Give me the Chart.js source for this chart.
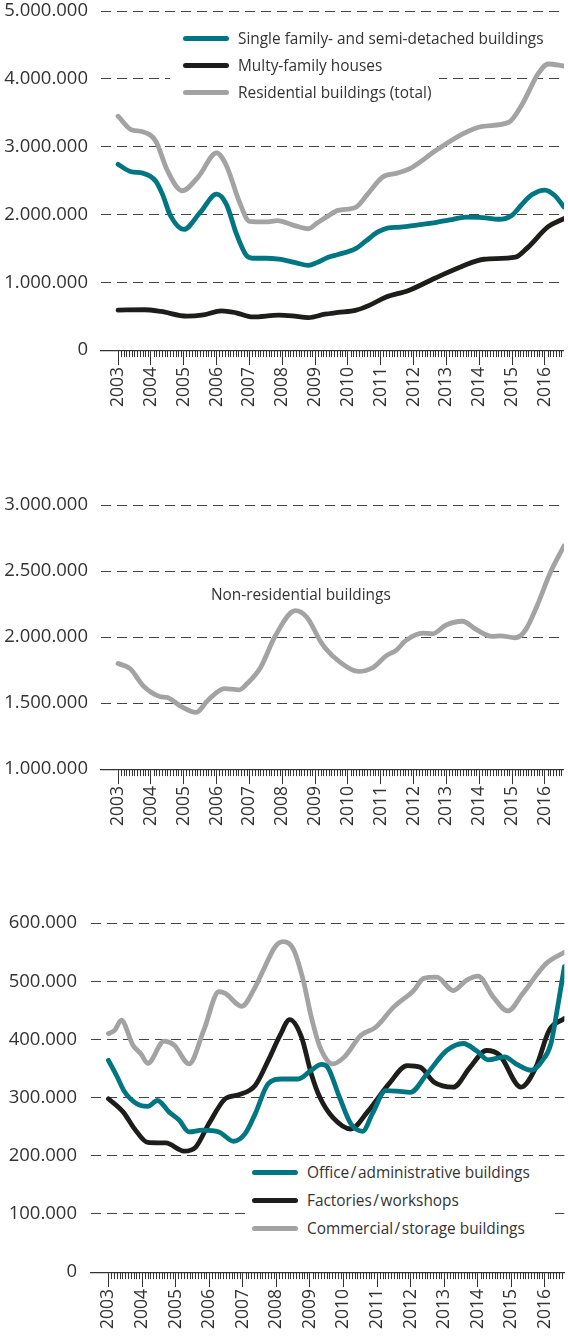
<!DOCTYPE html>
<html>
<head>
<meta charset="utf-8">
<script src="https://cdn.jsdelivr.net/npm/chart.js@4.4.1/dist/chart.umd.min.js"></script>
<style>
  body { margin: 0; width: 568px; height: 1337px; overflow: hidden; background: #fff; font-family: "Open Sans", sans-serif; color: #333; }
  canvas { position: absolute; left: 0; }
  .legend { position: absolute; background: #fff; }
  .row { position: absolute; left: 0; height: 20px; display: flex; align-items: center; white-space: nowrap; font-size: 15.4px; }
  .swatch { display: inline-block; width: 46px; height: 5px; border-radius: 3px; margin-right: 9px; }
  .note { position: absolute; font-size: 15.4px; white-space: nowrap; }
</style>
</head>
<body>
<canvas id="c1" width="568" height="420" style="top:0px"></canvas>
<canvas id="c2" width="568" height="340" style="top:495px"></canvas>
<canvas id="c3" width="568" height="420" style="top:913px"></canvas>

<div class="legend" style="left:170px; top:26px; width:269px; height:80px;">
  <div class="row" style="left:13px; top:2px"><span class="swatch" style="background:#007682"></span>Single family- and semi-detached buildings</div>
  <div class="row" style="left:13px; top:29px"><span class="swatch" style="background:#1d1d1b"></span>Multy-family houses</div>
  <div class="row" style="left:13px; top:56px"><span class="swatch" style="background:#a3a3a3"></span>Residential buildings (total)</div>
</div>
<div class="note" style="left:211px; top:584px">Non-residential buildings</div>
<div class="legend" style="left:246px; top:1160px; width:303px; height:82px;">
  <div class="row" style="left:6px; top:2px"><span class="swatch" style="background:#007682"></span>Office&#8202;/&#8202;administrative buildings</div>
  <div class="row" style="left:6px; top:30px"><span class="swatch" style="background:#1d1d1b"></span>Factories&#8202;/&#8202;workshops</div>
  <div class="row" style="left:6px; top:58px"><span class="swatch" style="background:#a3a3a3"></span>Commercial&#8202;/&#8202;storage buildings</div>
</div>

<script>
const TEAL = "#007682";
const BLACK = "#1d1d1b";
const GREY = "#a3a3a3";

const years = [2003, 2004, 2005, 2006, 2007, 2008, 2009, 2010, 2011, 2012, 2013, 2014, 2015, 2016];

// chart 1, values in thousands
const singleX = [2003.0, 2003.4, 2003.75, 2004.15, 2004.35, 2004.6, 2005.0, 2005.5, 2006.0, 2006.3, 2006.6, 2006.9, 2007.1, 2007.5, 2007.9, 2008.4, 2008.8, 2009.05, 2009.4, 2009.7, 2010.25, 2010.55, 2010.9, 2011.2, 2011.6, 2012.1, 2012.7, 2013.1, 2013.6, 2014.1, 2014.6, 2015.0, 2015.3, 2015.6, 2016.0, 2016.3, 2016.58];
const singleY = [2740, 2630, 2610, 2490, 2300, 1980, 1780, 2030, 2300, 2150, 1720, 1400, 1355, 1355, 1340, 1290, 1250, 1290, 1370, 1410, 1500, 1610, 1740, 1800, 1815, 1845, 1885, 1920, 1960, 1955, 1930, 1990, 2150, 2290, 2360, 2280, 2110];

const multiX = [2003.0, 2003.8, 2004.3, 2005.1, 2005.6, 2006.15, 2006.6, 2007.1, 2007.9, 2008.3, 2008.8, 2009.3, 2009.7, 2010.25, 2010.65, 2011.15, 2011.85, 2012.65, 2013.45, 2014.15, 2015.1, 2015.45, 2016.1, 2016.58];
const multiY = [590, 595, 570, 500, 520, 580, 550, 490, 515, 505, 480, 530, 555, 590, 660, 780, 880, 1060, 1230, 1340, 1370, 1500, 1820, 1940];

const resX = [2003.0, 2003.4, 2003.75, 2004.15, 2004.5, 2004.95, 2005.45, 2006.0, 2006.3, 2006.7, 2007.0, 2007.5, 2007.85, 2008.35, 2008.8, 2009.05, 2009.4, 2009.7, 2010.25, 2010.6, 2011.05, 2011.5, 2011.9, 2012.7, 2013.5, 2014.1, 2014.9, 2015.3, 2015.8, 2016.1, 2016.58];
const resY = [3450, 3250, 3220, 3080, 2650, 2350, 2560, 2910, 2720, 2180, 1900, 1890, 1910, 1840, 1790, 1870, 1980, 2060, 2110, 2300, 2550, 2610, 2680, 2950, 3190, 3300, 3360, 3620, 4080, 4220, 4190];

// chart 2
const nonResX = [2003.0, 2003.37, 2003.77, 2004.27, 2004.52, 2004.92, 2005.38, 2005.73, 2006.24, 2006.69, 2006.94, 2007.34, 2007.79, 2008.4, 2008.75, 2009.15, 2009.3, 2009.76, 2010.31, 2010.77, 2011.17, 2011.47, 2011.77, 2012.28, 2012.58, 2012.98, 2013.49, 2013.89, 2014.39, 2014.64, 2015.1, 2015.4, 2015.75, 2016.15, 2016.58];
const nonResY = [1800, 1760, 1630, 1550, 1540, 1475, 1430, 1520, 1610, 1600, 1650, 1770, 2010, 2200, 2150, 1975, 1920, 1810, 1740, 1770, 1860, 1900, 1975, 2030, 2025, 2090, 2120, 2060, 2005, 2010, 1995, 2050, 2230, 2480, 2690];

// chart 3
const officeX = [2003.0, 2003.24, 2003.48, 2003.83, 2004.17, 2004.46, 2004.81, 2005.11, 2005.4, 2005.79, 2006.29, 2006.73, 2007.07, 2007.37, 2007.76, 2008.16, 2008.65, 2009.04, 2009.35, 2009.53, 2009.88, 2010.22, 2010.57, 2010.86, 2011.26, 2011.6, 2011.99, 2012.49, 2013.08, 2013.57, 2013.97, 2014.31, 2014.8, 2015.14, 2015.59, 2015.93, 2016.18, 2016.38, 2016.58];
const officeY = [364, 338, 310, 290, 285, 295, 275, 261, 241, 244, 241, 225, 238, 272, 324, 332, 332, 347, 357, 352, 301, 255, 242, 272, 312, 311, 309, 341, 381, 393, 380, 365, 370, 358, 347, 364, 393, 456, 525];

const factX = [2003.0, 2003.44, 2003.78, 2004.17, 2004.71, 2005.25, 2005.6, 2005.99, 2006.48, 2006.88, 2007.37, 2007.76, 2008.11, 2008.4, 2008.75, 2009.04, 2009.3, 2009.68, 2010.22, 2010.71, 2011.36, 2011.9, 2012.29, 2012.69, 2013.27, 2013.77, 2014.26, 2014.65, 2015.29, 2015.73, 2016.13, 2016.58];
const factY = [298, 275, 246, 223, 222, 208, 215, 255, 298, 305, 321, 364, 407, 434, 404, 341, 300, 266, 246, 275, 324, 355, 352, 327, 318, 352, 381, 373, 318, 352, 416, 436];

const commX = [2003.0, 2003.19, 2003.38, 2003.73, 2003.97, 2004.17, 2004.66, 2004.96, 2005.4, 2005.84, 2006.29, 2006.48, 2006.97, 2007.37, 2007.66, 2007.96, 2008.2, 2008.5, 2008.8, 2009.04, 2009.3, 2009.68, 2010.03, 2010.52, 2010.96, 2011.5, 2012.09, 2012.39, 2012.78, 2013.27, 2013.67, 2014.01, 2014.46, 2014.9, 2015.34, 2016.03, 2016.58];
const commY = [410, 416, 433, 390, 375, 359, 397, 390, 358, 416, 482, 479, 457, 490, 525, 559, 568, 556, 502, 439, 387, 358, 370, 407, 421, 456, 484, 505, 507, 484, 502, 509, 473, 449, 479, 530, 550];

Chart.defaults.font.family = "'Open Sans', sans-serif";
Chart.defaults.font.size = 18;
Chart.defaults.color = "#333";

const pts = (xs, ys) => xs.map((x, i) => ({ x, y: ys[i] }));

const fmt = v => Math.round(v * 1000).toString().replace(/\B(?=(\d{3})+(?!\d))/g, ".");

// monthly minor ticks under the x axis
const monthTicks = {
  id: "monthTicks",
  afterDraw(chart) {
    const sx = chart.scales.x;
    const ctx = chart.ctx;
    const y0 = chart.chartArea.bottom;
    ctx.save();
    ctx.strokeStyle = "#333";
    ctx.lineWidth = 1;
    ctx.beginPath();
    for (let m = 1; 2003 + m / 12 <= sx.max; m++) {
      if (m % 12 === 0) continue;
      const px = Math.round(sx.getPixelForValue(2003 + m / 12)) + 0.5;
      ctx.moveTo(px, y0);
      ctx.lineTo(px, y0 + 7);
    }
    ctx.stroke();
    ctx.restore();
  }
};

function line(data, color) {
  return {
    data,
    borderColor: color,
    borderWidth: 4.8,
    pointRadius: 0,
    borderCapStyle: "round",
    borderJoinStyle: "round",
    cubicInterpolationMode: "monotone",
    fill: false
  };
}

function makeChart(id, datasets, yMin, yMax, yStep, axisWidth, labelPad) {
  return new Chart(document.getElementById(id), {
    type: "line",
    data: { datasets },
    options: {
      responsive: false,
      maintainAspectRatio: false,
      animation: false,
      devicePixelRatio: 1,
      layout: { padding: 0 },
      plugins: { legend: { display: false }, tooltip: { enabled: false } },
      scales: {
        x: {
          type: "linear",
          min: 2002.48,
          max: 2016.58,
          afterBuildTicks: s => { s.ticks = years.map(v => ({ value: v })); },
          afterFit: s => { s.height = 60; },
          grid: { drawOnChartArea: false, drawTicks: true, tickLength: 15, tickColor: "#333", tickWidth: 1 },
          border: { display: true, color: "#333", width: 1.2 },
          ticks: { minRotation: 90, maxRotation: 90, padding: 2, font: { size: 17.5 }, callback: v => String(v) }
        },
        y: {
          min: yMin,
          max: yMax,
          afterBuildTicks: s => {
            const t = [];
            for (let v = yMin; v <= yMax; v += yStep) t.push({ value: v });
            s.ticks = t;
          },
          afterFit: s => { s.width = axisWidth; },
          grid: { color: "#444", lineWidth: 1, drawTicks: false },
          border: { display: false, dash: [10, 6] },
          ticks: { padding: labelPad, font: { size: 18.5 }, callback: v => fmt(v) }
        }
      }
    },
    plugins: [monthTicks]
  });
}

// put the plot area of a chart at the wanted page rows
function place(chart, top, bottom) {
  const a = chart.chartArea;
  const h = chart.height + (bottom - top) - (a.bottom - a.top);
  chart.resize(568, h);
  chart.canvas.style.top = (top - chart.chartArea.top) + "px";
}

const c1 = makeChart("c1", [
  line(pts(singleX, singleY), TEAL),
  line(pts(multiX, multiY), BLACK),
  line(pts(resX, resY), GREY)
], 0, 5000, 1000, 101, 13);
place(c1, 11, 350);

const c2 = makeChart("c2", [
  line(pts(nonResX, nonResY), GREY)
], 1000, 3000, 500, 101, 13);
place(c2, 505, 769);

const c3 = makeChart("c3", [
  line(pts(officeX, officeY), TEAL),
  line(pts(factX, factY), BLACK),
  line(pts(commX, commY), GREY)
], 0, 600, 100, 91, 14);
place(c3, 923, 1272);
</script>
</body>
</html>
